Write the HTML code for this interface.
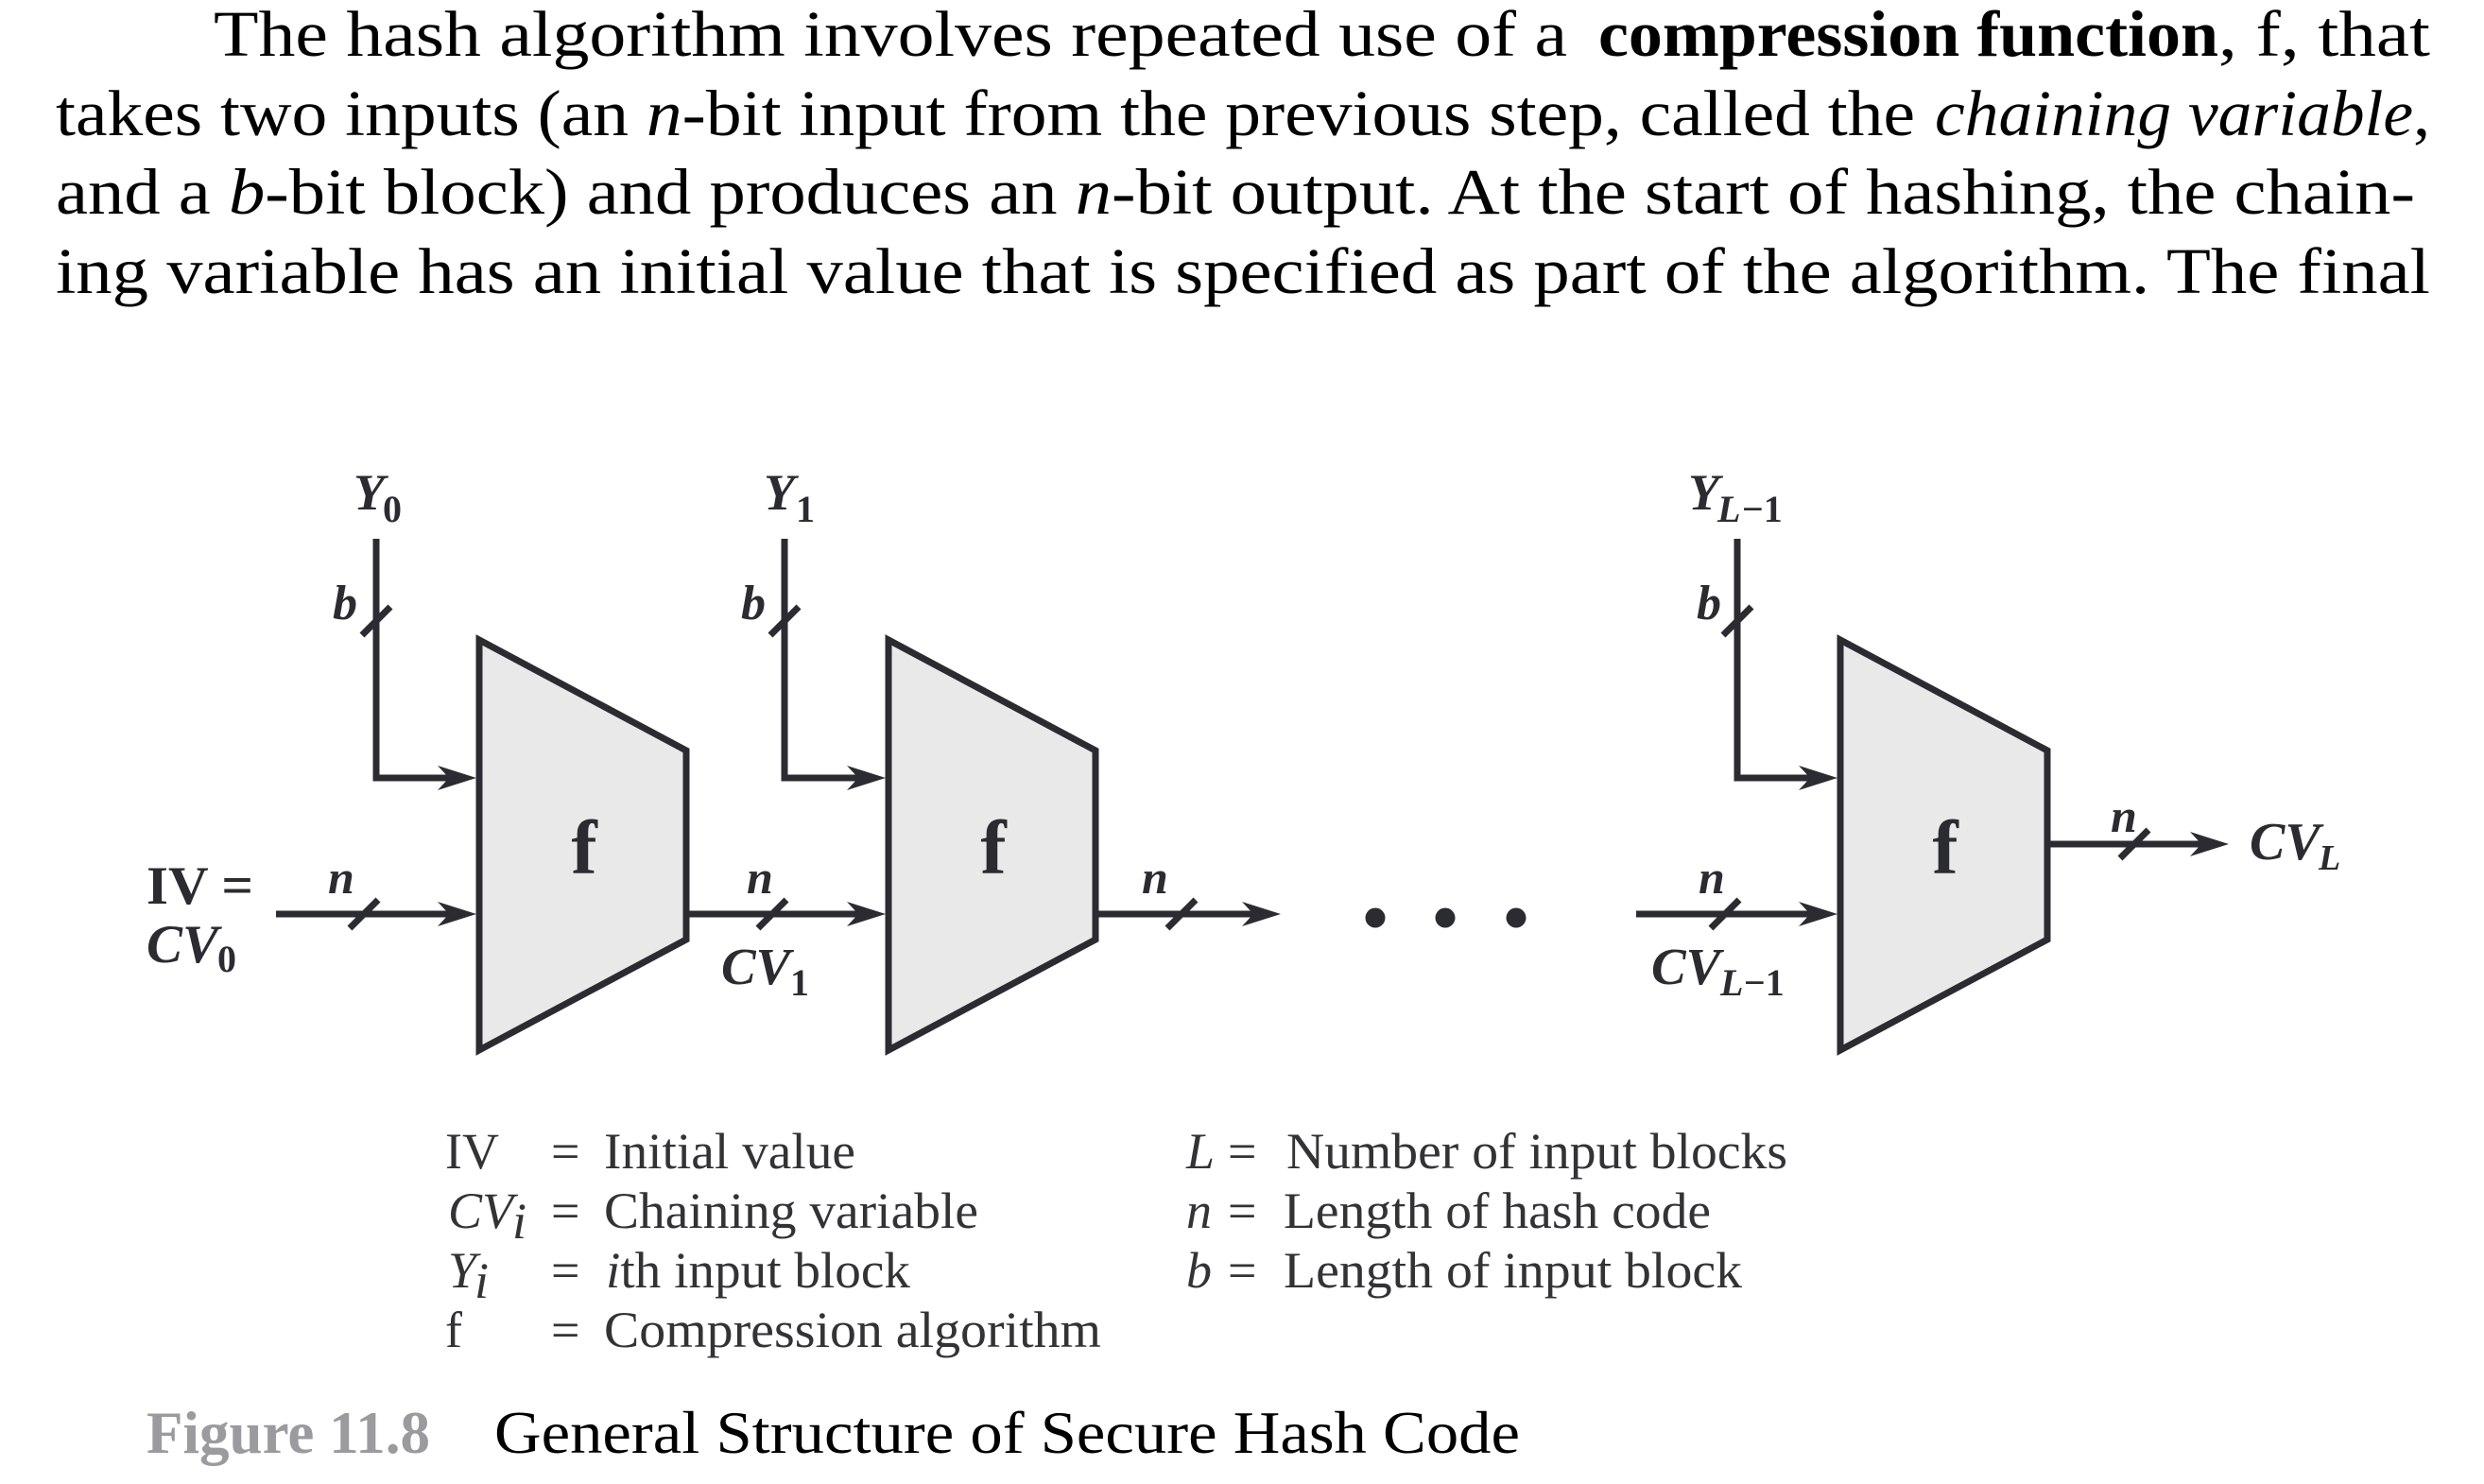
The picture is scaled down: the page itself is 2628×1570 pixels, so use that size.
<!DOCTYPE html>
<html>
<head>
<meta charset="utf-8">
<style>
  html, body { margin:0; padding:0; background:#ffffff; }
  body { width:2628px; height:1570px; overflow:hidden; }
  svg { display:block; }
  .p { font-family:"Liberation Serif", "Tinos", "Times New Roman", "Nimbus Roman", Times, serif; font-size:69px; fill:#000; }
  .lab { font-family:"Liberation Serif", "Tinos", "Times New Roman", "Nimbus Roman", Times, serif; font-weight:bold; font-style:italic; fill:#2b2c31; }
  .labr { font-family:"Liberation Serif", "Tinos", "Times New Roman", "Nimbus Roman", Times, serif; font-weight:bold; fill:#2b2c31; }
  .leg { font-family:"Liberation Serif", "Tinos", "Times New Roman", "Nimbus Roman", Times, serif; font-size:54px; fill:#333336; }
  .cap { font-family:"Liberation Serif", "Tinos", "Times New Roman", "Nimbus Roman", Times, serif; font-size:64px; fill:#000; }
</style>
</head>
<body>
<svg width="2628" height="1570" viewBox="0 0 2628 1570" xmlns="http://www.w3.org/2000/svg">
  <rect width="2628" height="1570" fill="#ffffff"/>

  <!-- Paragraph -->
  <text class="p" x="226" y="59" textLength="1432" lengthAdjust="spacingAndGlyphs">The hash algorithm involves repeated use of a</text>
  <text class="p" x="1691" y="59" font-weight="bold" textLength="656" lengthAdjust="spacingAndGlyphs">compression function</text>
  <text class="p" x="2347" y="59" textLength="224" lengthAdjust="spacingAndGlyphs">, f, that</text>

  <text class="p" x="59" y="143" textLength="1967" lengthAdjust="spacingAndGlyphs">takes two inputs (an <tspan font-style="italic">n</tspan>-bit input from the previous step, called the</text>
  <text class="p" x="2047" y="143" textLength="524" lengthAdjust="spacingAndGlyphs"><tspan font-style="italic">chaining variable</tspan>,</text>

  <text class="p" x="59" y="226" textLength="2496" lengthAdjust="spacingAndGlyphs">and a <tspan font-style="italic">b</tspan>-bit block) and produces an <tspan font-style="italic">n</tspan>-bit output. At the start of hashing, the chain-</text>

  <text class="p" x="59" y="310" textLength="2512" lengthAdjust="spacingAndGlyphs">ing variable has an initial value that is specified as part of the algorithm. The final</text>

  <!-- Trapezoids -->
  <g fill="#e9e9ea" stroke="#2b2c31" stroke-width="7" stroke-linejoin="miter">
    <polygon points="507,677 726,794 726,994 507,1111"/>
    <polygon points="940,677 1159,794 1159,994 940,1111"/>
    <polygon points="1947,677 2166,794 2166,994 1947,1111"/>
  </g>

  <!-- f labels -->
  <g class="labr" font-size="82" text-anchor="middle" style="font-style:normal">
    <text x="618" y="924">f</text>
    <text x="1051" y="924">f</text>
    <text x="2058" y="924">f</text>
  </g>

  <!-- Connectors -->
  <g fill="none" stroke="#2b2c31" stroke-width="7" stroke-linejoin="miter">
    <polyline points="398,570 398,823 477,823"/>
    <polyline points="830,570 830,823 910,823"/>
    <polyline points="1838,570 1838,823 1916,823"/>
    <line x1="292" y1="967" x2="477" y2="967"/>
    <line x1="726" y1="967" x2="910" y2="967"/>
    <line x1="1159" y1="967" x2="1328" y2="967"/>
    <line x1="1731" y1="967" x2="1916" y2="967"/>
    <line x1="2166" y1="893" x2="2331" y2="893"/>
    <line x1="383" y1="672" x2="413" y2="642"/>
    <line x1="815" y1="672" x2="845" y2="642"/>
    <line x1="1823" y1="672" x2="1853" y2="642"/>
    <line x1="370" y1="982" x2="400" y2="952"/>
    <line x1="802" y1="982" x2="832" y2="952"/>
    <line x1="1235" y1="982" x2="1265" y2="952"/>
    <line x1="1810" y1="982" x2="1840" y2="952"/>
    <line x1="2243" y1="908" x2="2273" y2="878"/>
  </g>

  <!-- Arrowheads -->
  <g fill="#2b2c31">
    <polygon points="504,823 463,810 475,823 463,836"/>
    <polygon points="937,823 896,810 908,823 896,836"/>
    <polygon points="1944,823 1903,810 1915,823 1903,836"/>
    <polygon points="504,967 463,954 475,967 463,980"/>
    <polygon points="937,967 896,954 908,967 896,980"/>
    <polygon points="1355,967 1314,954 1326,967 1314,980"/>
    <polygon points="1944,967 1903,954 1915,967 1903,980"/>
    <polygon points="2358,893 2317,880 2329,893 2317,906"/>
    <circle cx="1455" cy="971" r="10.5"/>
    <circle cx="1529" cy="971" r="10.5"/>
    <circle cx="1604" cy="971" r="10.5"/>
  </g>

  <!-- Y labels -->
  <text class="lab" x="374" y="539" font-size="54">Y</text>
  <text class="labr" x="405" y="552" font-size="40">0</text>
  <text class="lab" x="808" y="539" font-size="54">Y</text>
  <text class="labr" x="842" y="552" font-size="40">1</text>
  <text class="lab" x="1786" y="539" font-size="54">Y</text>
  <text class="lab" x="1817" y="552" font-size="40">L</text>
  <text class="labr" x="1843" y="552" font-size="40">−1</text>

  <!-- b labels -->
  <text class="lab" x="352" y="655" font-size="52">b</text>
  <text class="lab" x="784" y="655" font-size="52">b</text>
  <text class="lab" x="1795" y="655" font-size="52">b</text>

  <!-- n labels -->
  <text class="lab" x="347" y="945" font-size="50">n</text>
  <text class="lab" x="790" y="945" font-size="50">n</text>
  <text class="lab" x="1208" y="945" font-size="50">n</text>
  <text class="lab" x="1797" y="945" font-size="50">n</text>
  <text class="lab" x="2233" y="880" font-size="50">n</text>

  <!-- IV = CV0 -->
  <text class="labr" x="155" y="956" font-size="57" textLength="113" lengthAdjust="spacingAndGlyphs">IV =</text>
  <text class="lab" x="155" y="1018" font-size="57">CV</text>
  <text class="labr" x="230" y="1028" font-size="40">0</text>

  <!-- CV1 -->
  <text class="lab" x="763" y="1041" font-size="55">CV</text>
  <text class="labr" x="836" y="1053" font-size="40">1</text>

  <!-- CV L-1 -->
  <text class="lab" x="1747" y="1041" font-size="55">CV</text>
  <text class="lab" x="1820" y="1053" font-size="40">L</text>
  <text class="labr" x="1845" y="1053" font-size="40">−1</text>

  <!-- CV L -->
  <text class="lab" x="2380" y="909" font-size="56">CV</text>
  <text class="lab" x="2453" y="920" font-size="38">L</text>

  <!-- Legend left -->
  <text class="leg" x="471" y="1236">IV</text>
  <text class="leg" x="583" y="1236">=</text>
  <text class="leg" x="639" y="1236" textLength="266" lengthAdjust="spacingAndGlyphs">Initial value</text>

  <text class="leg" x="474" y="1299" font-style="italic">CV</text>
  <text class="leg" x="542" y="1310" font-size="38" font-style="italic">i</text>
  <text class="leg" x="583" y="1299">=</text>
  <text class="leg" x="639" y="1299" textLength="396" lengthAdjust="spacingAndGlyphs">Chaining variable</text>

  <text class="leg" x="474" y="1362" font-style="italic">Y</text>
  <text class="leg" x="502" y="1373" font-size="38" font-style="italic">i</text>
  <text class="leg" x="583" y="1362">=</text>
  <text class="leg" x="641" y="1362" textLength="322" lengthAdjust="spacingAndGlyphs"><tspan font-style="italic">i</tspan>th input block</text>

  <text class="leg" x="471" y="1425">f</text>
  <text class="leg" x="583" y="1425">=</text>
  <text class="leg" x="639" y="1425" textLength="526" lengthAdjust="spacingAndGlyphs">Compression algorithm</text>

  <!-- Legend right -->
  <text class="leg" x="1255" y="1236" font-style="italic">L</text>
  <text class="leg" x="1299" y="1236">=</text>
  <text class="leg" x="1361" y="1236" textLength="530" lengthAdjust="spacingAndGlyphs">Number of input blocks</text>

  <text class="leg" x="1255" y="1299" font-style="italic">n</text>
  <text class="leg" x="1299" y="1299">=</text>
  <text class="leg" x="1358" y="1299" textLength="452" lengthAdjust="spacingAndGlyphs">Length of hash code</text>

  <text class="leg" x="1255" y="1362" font-style="italic">b</text>
  <text class="leg" x="1299" y="1362">=</text>
  <text class="leg" x="1358" y="1362" textLength="485" lengthAdjust="spacingAndGlyphs">Length of input block</text>

  <!-- Caption -->
  <text class="cap" x="155" y="1537" font-weight="bold" style="fill:#9a9b9e" textLength="300" lengthAdjust="spacingAndGlyphs">Figure 11.8</text>
  <text class="cap" x="523" y="1537" textLength="1085" lengthAdjust="spacingAndGlyphs">General Structure of Secure Hash Code</text>
</svg>
</body>
</html>
